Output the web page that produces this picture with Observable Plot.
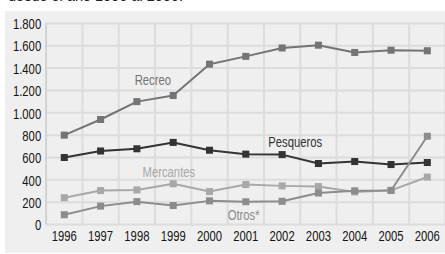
<!DOCTYPE html>
<html><head><meta charset="utf-8">
<script src="https://cdn.jsdelivr.net/npm/d3@7"></script>
<script src="https://cdn.jsdelivr.net/npm/@observablehq/plot@0.6"></script>
<style>
html,body{margin:0;padding:0;background:#fff;width:445px;height:254px;overflow:hidden;position:relative;}
#title{position:absolute;left:8px;top:-12px;font:14.5px "Liberation Sans","DejaVu Sans",sans-serif;color:#222;white-space:nowrap;}
#panel{position:absolute;left:5px;top:11px;width:440px;height:242px;background:#efefef;overflow:hidden;}
#panel svg{display:block;}
</style></head>
<body>
<div id="title">desde el año 1996 al 2006.</div>
<div id="panel"></div>
<script>
const years = [1996,1997,1998,1999,2000,2001,2002,2003,2004,2005,2006];
const recreo    = [800, 940, 1100, 1155, 1435, 1505, 1580, 1605, 1540, 1560, 1555];
const pesqueros = [600, 658, 678, 735, 665, 630, 626, 546, 564, 537, 555];
const mercantes = [240, 304, 310, 365, 295, 358, 346, 340, 292, 306, 425];
const otros     = [88, 165, 205, 170, 212, 204, 208, 282, 302, 305, 790];
const seriesNames = ["Recreo","Pesqueros","Mercantes","Otros*"];
const seriesColors = ["#747474","#333333","#a8a8a8","#8c8c8c"];
const yTicks = [0,200,400,600,800,1000,1200,1400,1600,1800];
const labelX = [1998.44, 2002.36, 1998.88, 2000.94];
const labelY = [1290, 733, 468, 82];

const allSeries = [recreo, pesqueros, mercantes, otros];
const data = [];
allSeries.forEach((vals, i) => vals.forEach((v, j) => data.push({year: years[j], value: v, series: seriesNames[i]})));
const labels = seriesNames.map((s, i) => ({series: s, x: labelX[i], y: labelY[i]}));
const gridX = d3.range(1995.5, 2007, 1);

const font = '"Liberation Sans","Arimo",sans-serif';
const chart = Plot.plot({
  width: 444, height: 242,
  marginLeft: 41, marginRight: 0, marginTop: 12, marginBottom: 27,
  style: {background: "transparent", fontFamily: font, fontSize: "15px", overflow: "visible"},
  x: {domain: [1995.5, 2006.5], axis: null},
  y: {domain: [0, 1800], axis: null},
  color: {domain: seriesNames, range: seriesColors},
  marks: [
    Plot.ruleY(yTicks, {stroke: "#dcdcdc", strokeWidth: 2}),
    Plot.ruleX(gridX, {y1: 0, y2: 1800, stroke: "#dcdcdc", strokeWidth: 2}),
    Plot.ruleX([1995.5], {y1: 0, y2: 1800, stroke: "#cfcfcf", strokeWidth: 1.5}),
    Plot.text(yTicks, {x: 1995.5, y: d => d, text: d => d3.format(",")(d).replace(/,/g, "."), textAnchor: "end", dx: -5, dy: 1, fill: "#141414", fontSize: 15}),
    Plot.text(years, {x: d => d, y: 0, text: d => String(d), dy: 12, fill: "#141414", fontSize: 15}),
    Plot.line(data, {x: "year", y: "value", z: "series", stroke: "series", strokeWidth: 2}),
    Plot.dot(data, {x: "year", y: "value", fill: "series", symbol: "square", r: 4}),
    Plot.text(labels, {x: "x", y: "y", text: "series", fill: "series", fontSize: 15})
  ]
});
document.getElementById("panel").appendChild(chart);
// condense glyphs to mimic the narrow typeface
chart.querySelectorAll("text").forEach(t => {
  const w = t.getComputedTextLength();
  if (w > 0) {
    t.setAttribute("textLength", (w * 0.76).toFixed(2));
    t.setAttribute("lengthAdjust", "spacingAndGlyphs");
  }
});
</script>
</body></html>
